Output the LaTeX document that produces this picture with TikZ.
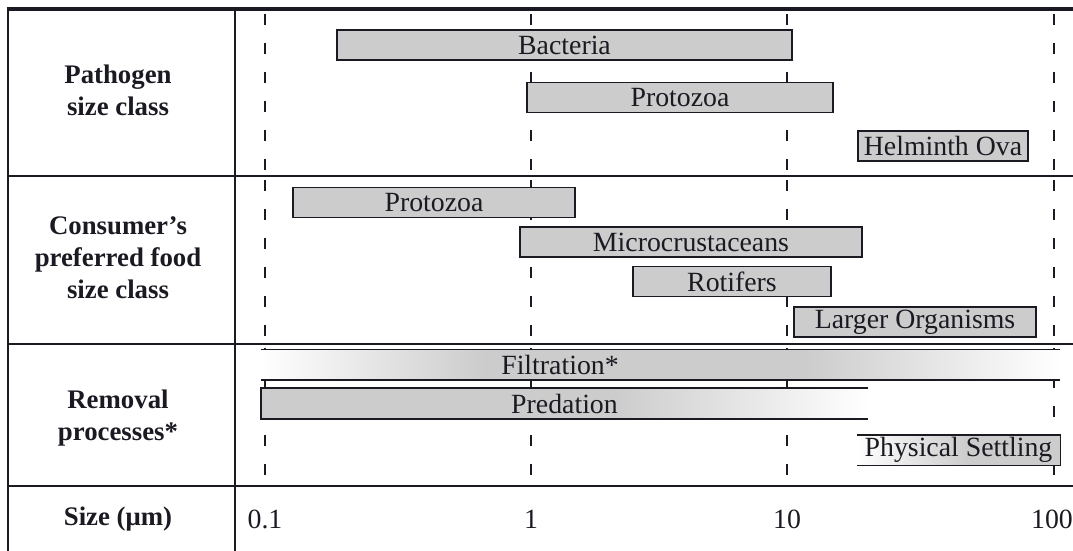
\documentclass[tikz,border=0pt]{standalone}
\usepackage{fontspec}
\setmainfont{Liberation Serif}
\usepackage{tikz}
\usetikzlibrary{positioning,shadings}
\definecolor{ink}{HTML}{1A1A22}
\definecolor{barfill}{HTML}{CCCCCC}
% TikZ fits the middle 25bp--75bp of a shading to the path
\pgfdeclarehorizontalshading{filtfade}{100bp}{color(0bp)=(white); color(25bp)=(white); color(39bp)=(barfill); color(59bp)=(barfill); color(75bp)=(white); color(100bp)=(white)}
\pgfdeclarehorizontalshading{predfade}{100bp}{color(0bp)=(barfill); color(25bp)=(barfill); color(54bp)=(barfill); color(75bp)=(white); color(100bp)=(white)}
\pgfdeclarehorizontalshading{settfade}{100bp}{color(0bp)=(white); color(25bp)=(white); color(52bp)=(barfill); color(75bp)=(barfill); color(100bp)=(barfill)}
\tikzset{
  rule/.style={ink,line width=1pt},
  toprule/.style={ink,line width=2pt},
  decade/.style={ink,line width=1pt,dash pattern=on 5.5pt off 9pt,dash phase=12.5pt},
  bar/.style={draw=ink,line width=0.9pt,fill=barfill,inner sep=0pt,minimum height=15pt,
    font=\fontsize{13.9}{16}\selectfont,text=ink},
  shadebar/.style={shade,inner sep=0pt,minimum height=15pt},
  barline/.style={ink,line width=0.9pt},
  barlbl/.style={font=\fontsize{13.9}{16}\selectfont,text=ink},
  rowlbl/.style={font=\bfseries\fontsize{13.4}{16}\selectfont,align=center,text=ink},
}

\begin{document}
\begin{tikzpicture}[x=0.5pt,y=-0.5pt]
  \useasboundingbox (0,0) rectangle (1073,551);
  % ---- decade guides (behind the bars) ----
  \foreach \xd in {265,531,787,1054}
    \foreach \ya/\yb in {10/176,176/344,344/486}
      \draw[decade] (\xd,\ya) -- (\xd,\yb);
  % ---- table frame ----
  \draw[toprule] (7,9) -- (1073,9);
  \draw[rule] (8,8) -- (8,551);
  \draw[rule] (235,8) -- (235,551);
  \foreach \yr in {176,344,486} \draw[rule] (8,\yr) -- (1073,\yr);
  % ---- row labels ----
  \node[rowlbl] (pathlbl) at (118,90) {Pathogen\\size class};
  \node[rowlbl] (conslbl) at (118,258) {Consumer’s\\preferred food\\size class};
  \node[rowlbl] (remlbl) at (118,418) {Removal\\processes*};
  \node[rowlbl] (sizelbl) at (118,519) {Size (μm)};
  % ---- pathogen size class ----
  \node[bar,minimum width=455*0.5pt] (bact) at (564.5,45) {Bacteria};
  \node[bar,minimum width=306*0.5pt] (protp) at (680,97.5) {Protozoa};
  \node[bar,minimum width=170*0.5pt] (helm) at (943,146) {Helminth Ova};
  % ---- consumer's preferred food size class ----
  \node[bar,minimum width=282*0.5pt] (protc) at (434,202.5) {Protozoa};
  \node[bar,minimum width=342*0.5pt] (micro) at (691,242) {Microcrustaceans};
  \node[bar,minimum width=198*0.5pt] (roti) at (732,281.5) {Rotifers};
  \node[bar,minimum width=242*0.5pt] (large) at (915,322) {Larger Organisms};
  % ---- removal processes ----
  \node[shadebar,shading=filtfade,minimum width=799*0.5pt] (filt) at (660.5,365) {};
  \node[barlbl] (filtlbl) at (560,365) {Filtration*};
  \draw[barline] (filt.north west) -- (filt.north east)
                 (filt.south west) -- (filt.south east);
  \node[shadebar,shading=predfade,minimum width=607*0.5pt] (pred) at (564.5,403.5) {};
  \node[barlbl] (predlbl) at (pred.center) {Predation};
  \draw[barline] (pred.north east) -- (pred.north west) -- (pred.south west) -- (pred.south east);
  \node[shadebar,shading=settfade,minimum width=203*0.5pt] (sett) at (958.5,450) {};
  \node[barlbl] (settlbl) at (sett.center) {Physical Settling};
  \draw[barline] (sett.north west) -- (sett.north east) -- (sett.south east) -- (sett.south west);
  % ---- size axis ----
  \node[barlbl] (t01) at (265,519) {0.1};
  \node[barlbl] (t1) at (531,519) {1};
  \node[barlbl] (t10) at (787,519) {10};
  \node[barlbl] (t100) at (1052,519) {100};
\end{tikzpicture}
\end{document}
